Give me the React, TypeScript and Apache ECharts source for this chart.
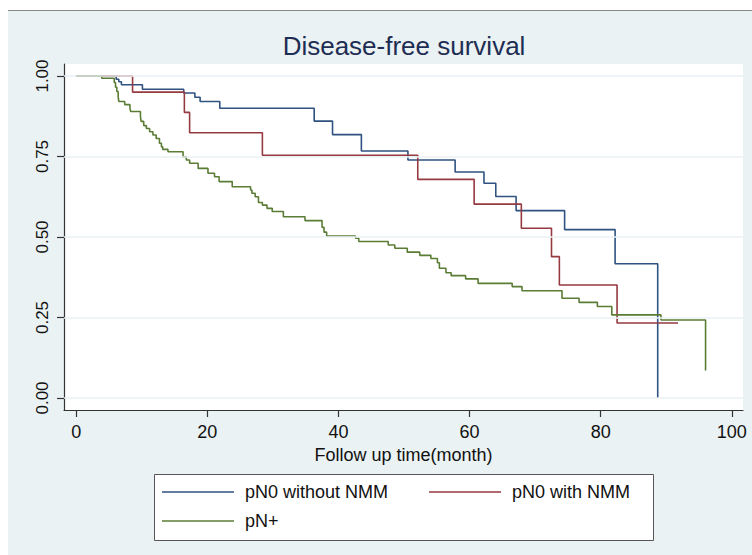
import React, { useEffect, useRef } from "react";
import * as echarts from "echarts";

const seriesNames = ["pN0 without NMM", "pN0 with NMM", "pN+"];
const seriesColors = ["#2f5281", "#953a41", "#5b7c35"];

const blueTime = [0, 6.1, 6.5, 6.9, 10.1, 16.4, 18.1, 18.9, 21.9, 36.3, 39.1, 43.5, 50.6, 57.8, 62.2, 64.0, 67.1, 74.5, 82.2, 88.7];
const blueSurv = [1, 0.99, 0.982, 0.973, 0.959, 0.947, 0.934, 0.921, 0.9, 0.86, 0.818, 0.767, 0.739, 0.702, 0.667, 0.626, 0.582, 0.523, 0.417, 0];

const redTime = [0, 8.6, 16.5, 17.3, 28.4, 52.1, 60.7, 67.9, 72.5, 73.7, 82.5, 91.8];
const redSurv = [1, 0.95, 0.887, 0.824, 0.754, 0.679, 0.602, 0.527, 0.439, 0.351, 0.233, 0.233];

const greenTime = [0, 3.9, 5.8, 6.0, 6.2, 6.4, 6.5, 7.4, 8.2, 8.3, 9.8, 9.9, 10.3, 10.7, 11.2, 11.7, 12.2, 12.7, 13.0, 13.2, 14.0, 16.3, 16.8, 17.3, 18.6, 20.1, 21.1, 21.8, 23.8, 26.6, 26.8, 27.3, 27.8, 28.4, 29.1, 29.9, 31.6, 34.9, 37.5, 37.8, 38.2, 42.6, 43.1, 47.6, 48.6, 50.5, 52.4, 54.1, 55.1, 55.4, 56.4, 57.2, 59.4, 61.3, 66.5, 68.0, 74.1, 76.7, 79.5, 81.7, 89.2, 96.0];
const greenSurv = [1, 0.993, 0.98, 0.965, 0.952, 0.936, 0.921, 0.911, 0.9, 0.89, 0.875, 0.859, 0.846, 0.837, 0.827, 0.817, 0.806, 0.791, 0.78, 0.772, 0.765, 0.749, 0.739, 0.729, 0.713, 0.698, 0.687, 0.672, 0.656, 0.646, 0.636, 0.625, 0.607, 0.599, 0.589, 0.579, 0.563, 0.551, 0.53, 0.515, 0.503, 0.496, 0.486, 0.475, 0.465, 0.453, 0.443, 0.433, 0.42, 0.403, 0.389, 0.38, 0.37, 0.356, 0.346, 0.333, 0.31, 0.297, 0.284, 0.258, 0.242, 0.085];

const xTicks = [0, 20, 40, 60, 80, 100];
const yTicks = [0, 0.25, 0.5, 0.75, 1];

const FONT = "Liberation Sans";

function pairs(t: number[], s: number[]) {
  return t.map((v, i) => [v, s[i]]);
}

export default function App() {
  const ref = useRef<HTMLDivElement>(null);
  useEffect(() => {
    if (!ref.current) return;
    const chart = echarts.init(ref.current, null, { renderer: "svg" });
    const curves = [pairs(blueTime, blueSurv), pairs(redTime, redSurv), pairs(greenTime, greenSurv)];
    const legendBase = {
      itemWidth: 72,
      itemHeight: 1.5,
      icon: "rect",
      padding: 0,
      selectedMode: false,
      textStyle: { fontSize: 18, fontFamily: FONT, color: "#111", padding: [0, 0, 0, 6] },
    };
    const option: any = {
      animation: false,
      backgroundColor: "transparent",
      grid: {
        left: 64,
        right: 9,
        top: 64,
        bottom: 145,
        show: true,
        backgroundColor: "#ffffff",
        borderWidth: 0,
      },
      graphic: [
        {
          type: "text",
          x: 404,
          y: 46,
          style: {
            text: "Disease-free survival",
            fontSize: 26,
            fontFamily: FONT,
            fill: "#1e2d53",
            textAlign: "center",
            textVerticalAlign: "middle",
          },
        },
        {
          type: "rect",
          shape: { x: 154.5, y: 474.5, width: 499, height: 66 },
          style: { fill: "#ffffff", stroke: "#555555", lineWidth: 1 },
        },
      ],
      xAxis: {
        type: "value",
        min: -1.86,
        max: 101.71,
        name: "Follow up time(month)",
        nameLocation: "middle",
        nameGap: 33,
        nameTextStyle: { fontSize: 18, fontFamily: FONT, color: "#111" },
        axisLine: { show: true, onZero: false, lineStyle: { color: "#333", width: 1.2 } },
        axisTick: { show: true, length: 7, customValues: xTicks, lineStyle: { color: "#333", width: 1.2 } },
        axisLabel: { customValues: xTicks, fontSize: 18, fontFamily: FONT, color: "#111", margin: 13 },
        splitLine: { show: false },
      },
      yAxis: {
        type: "value",
        min: -0.0373,
        max: 1.0373,
        axisLine: { show: true, onZero: false, lineStyle: { color: "#333", width: 1.2 } },
        axisTick: { show: true, length: 7, customValues: yTicks, lineStyle: { color: "#333", width: 1.2 } },
        axisLabel: {
          customValues: yTicks,
          rotate: 90,
          fontSize: 17,
          fontFamily: FONT,
          color: "#111",
          margin: 13,
          formatter: (v: number) => v.toFixed(2),
        },
        splitLine: { show: false },
      },
      legend: [
        {
          ...legendBase,
          left: 162,
          top: 483,
          itemGap: 41,
          data: [seriesNames[0], seriesNames[1]],
        },
        {
          ...legendBase,
          left: 162,
          top: 512,
          data: [seriesNames[2]],
        },
      ],
      series: [
        {
          name: "grid",
          type: "line",
          data: [[0, 1]],
          symbol: "none",
          lineStyle: { opacity: 0 },
          z: 1,
          silent: true,
          markLine: {
            silent: true,
            symbol: ["none", "none"],
            label: { show: false },
            lineStyle: { color: "#eaf2f3", width: 1.5, type: "solid" },
            data: yTicks.map((v) => ({ yAxis: v })),
          },
        },
        ...seriesNames.map((n, i) => ({
          name: n,
          type: "line",
          step: "end",
          data: curves[i],
          symbol: "none",
          color: seriesColors[i],
          lineStyle: { color: seriesColors[i], width: 1.6 },
          z: 3,
        })),
      ],
    };
    chart.setOption(option);
    return () => chart.dispose();
  }, []);
  return (
    <div style={{ position: "fixed", left: 0, top: 0, width: 752, height: 555, background: "#ffffff" }}>
      <div
        style={{
          position: "absolute",
          left: 8,
          top: 10,
          width: 744,
          height: 545,
          boxSizing: "border-box",
          borderTop: "1.5px solid #888888",
          background: "#eaf2f3",
        }}
      />
      <div ref={ref} style={{ position: "absolute", left: 0, top: 0, width: 752, height: 555 }} />
    </div>
  );
}
